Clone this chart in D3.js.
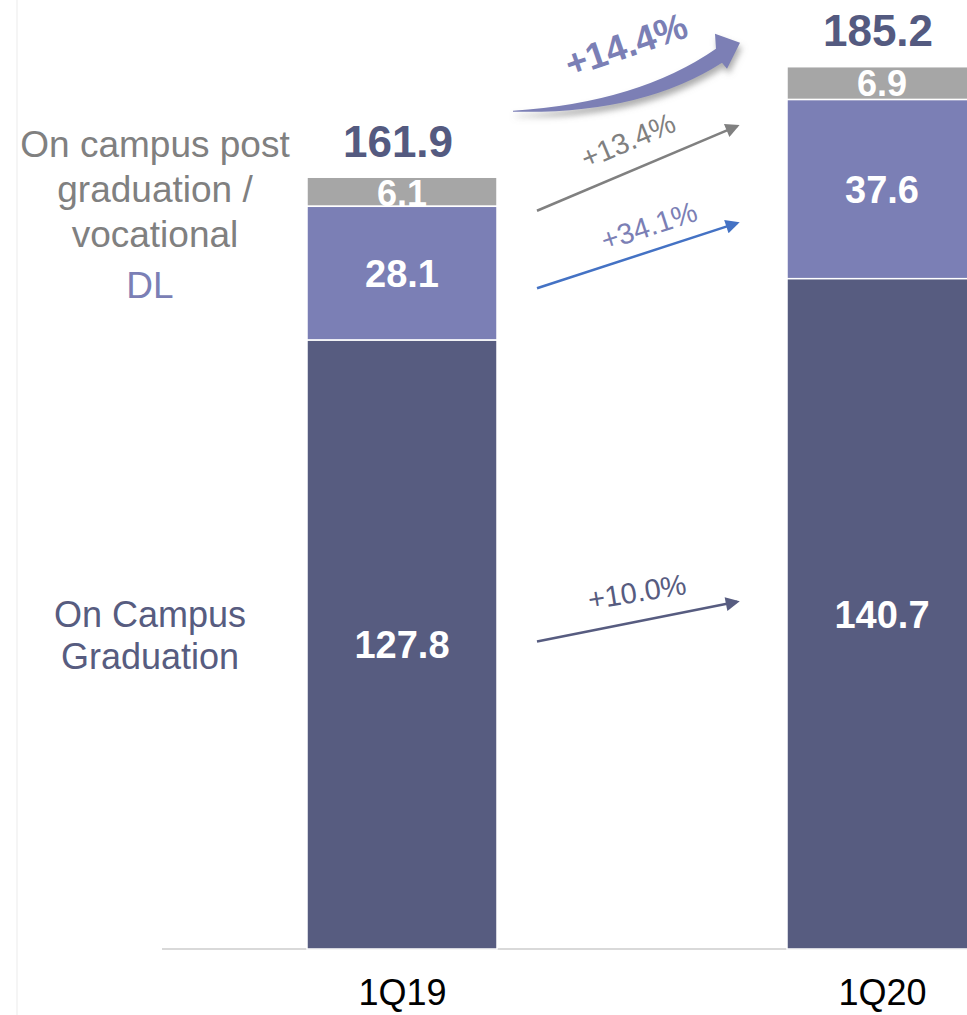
<!DOCTYPE html>
<html>
<head>
<meta charset="utf-8">
<script src="https://cdn.jsdelivr.net/npm/d3@7/dist/d3.min.js"></script>
<style>
  html, body { margin: 0; padding: 0; background: #fff; }
  svg { display: block; font-family: "Liberation Sans", Arial, sans-serif; }
</style>
</head>
<body>
<svg id="chart" width="967" height="1015"></svg>
<script>
// data
const categories = ['1Q19', '1Q20'];
const onCampusGrad = [127.8, 140.7];
const dlValues = [28.1, 37.6];
const postGradVoc = [6.1, 6.9];
const totals = [161.9, 185.2];
const seriesKeys = ['grad', 'dl', 'post'];
const seriesGrowth = ['+10.0%', '+34.1%', '+13.4%'];
const totalGrowth = '+14.4%';

const colors = { grad: '#575c80', dl: '#7b7fb5', post: '#a6a6a6' };
const arrowColors = { grad: '#575c80', dl: '#4472c4', post: '#808080' };
const growthTextColors = { grad: '#575c80', dl: '#7b7fb5', post: '#808080' };

const W = 967, H = 1015;
const baseY = 949;
const barW = 190;

const svg = d3.select('#chart');

const rows = categories.map((c, i) => ({
  cat: c, grad: onCampusGrad[i], dl: dlValues[i], post: postGradVoc[i]
}));
const stacked = d3.stack().keys(seriesKeys)(rows);

const x = d3.scalePoint().domain(categories).range([402, 882]);
const y = d3.scaleLinear().domain([0, 199.2]).range([baseY, 0]);

// faint frame line on the left
svg.append('line')
  .attr('x1', 17).attr('x2', 17).attr('y1', 0).attr('y2', H)
  .attr('stroke', '#f2f2f2').attr('stroke-width', 1.5);

// baseline
svg.append('line')
  .attr('x1', 162).attr('x2', W).attr('y1', baseY).attr('y2', baseY)
  .attr('stroke', '#d9d9d9').attr('stroke-width', 2);

// bars: draw top series first so lower rects cover overflowing labels
const bars = svg.append('g');
stacked.slice().reverse().forEach(s => {
  const g = bars.append('g').attr('class', 'series-' + s.key);
  g.selectAll('rect')
    .data(s)
    .join('rect')
    .attr('x', d => x(d.data.cat) - barW / 2)
    .attr('width', barW)
    .attr('y', d => y(d[1]))
    .attr('height', d => y(d[0]) - y(d[1]))
    .attr('fill', colors[s.key])
    .attr('stroke', '#fff')
    .attr('stroke-width', 1.5);

  const isPost = s.key === 'post';
  const fs = isPost ? 36 : 38;
  g.selectAll('text')
    .data(s)
    .join('text')
    .attr('x', d => x(d.data.cat))
    .attr('y', d => isPost ? y(d[1]) + 29 : (y(d[0]) + y(d[1])) / 2 + fs * 0.36)
    .attr('text-anchor', 'middle')
    .attr('font-size', fs)
    .attr('font-weight', 'bold')
    .attr('fill', '#fff')
    .text(d => d.data[s.key].toFixed(1));
});

// totals
svg.append('g').selectAll('text')
  .data(categories)
  .join('text')
  .attr('x', (c, i) => x(c) - 4)
  .attr('y', (c, i) => y(totals[i]) - 21)
  .attr('text-anchor', 'middle')
  .attr('font-size', 44)
  .attr('font-weight', 'bold')
  .attr('fill', '#545a80')
  .text((c, i) => totals[i].toFixed(1));

// category axis
const xAxis = svg.append('g')
  .attr('transform', `translate(0,${baseY})`)
  .call(d3.axisBottom(x).tickSize(0).tickPadding(0))
  .call(a => a.select('.domain').remove());
xAxis.selectAll('text')
  .attr('font-size', 36)
  .attr('font-family', '"Liberation Sans", Arial, sans-serif')
  .attr('fill', '#000')
  .attr('dy', null)
  .attr('y', 56);

// series legends on the left
const legend = svg.append('g').attr('text-anchor', 'middle');
[['On campus post', 157], ['graduation /', 202], ['vocational', 247]].forEach(([t, yy]) => {
  legend.append('text').attr('x', 155).attr('y', yy)
    .attr('font-size', 37).attr('fill', '#808080').text(t);
});
legend.append('text').attr('x', 150).attr('y', 298)
  .attr('font-size', 37).attr('fill', '#7b7fb5').text('DL');
[['On Campus', 627], ['Graduation', 669]].forEach(([t, yy]) => {
  legend.append('text').attr('x', 150).attr('y', yy)
    .attr('font-size', 36).attr('fill', '#575c80').text(t);
});

// growth arrows between the bars
const defs = svg.append('defs');
seriesKeys.forEach(k => {
  defs.append('marker')
    .attr('id', 'head-' + k)
    .attr('markerUnits', 'userSpaceOnUse')
    .attr('viewBox', '0 0 10 10')
    .attr('refX', 8).attr('refY', 5)
    .attr('markerWidth', 16).attr('markerHeight', 14)
    .attr('orient', 'auto')
    .append('path')
    .attr('d', 'M0,0 L10,5 L0,10 Z')
    .attr('fill', arrowColors[k]);
});

const x0 = x(categories[0]) + barW / 2;
const x1 = x(categories[1]) - barW / 2;
const segMid = (si, ci) => (y(stacked[si][ci][0]) + y(stacked[si][ci][1])) / 2;
// tail / head vertical offsets from the segment middles, and label shift
const arrowAdj = [
  { t: -3, h: -12, lx: 0, ly: -30 },
  { t: 15, h: 34, lx: 12, ly: -30 },
  { t: 19, h: 43, lx: -9, ly: -28 }
];
seriesKeys.forEach((k, si) => {
  const a = arrowAdj[si];
  const tx = x0 + 40, ty = segMid(si, 0) + a.t;
  const hx = x1 - 50, hy = segMid(si, 1) + a.h;
  svg.append('line')
    .attr('x1', tx).attr('y1', ty).attr('x2', hx).attr('y2', hy)
    .attr('stroke', arrowColors[k]).attr('stroke-width', 2.5)
    .attr('marker-end', `url(#head-${k})`);
  const ang = Math.atan2(hy - ty, hx - tx) * 180 / Math.PI;
  const mx = (tx + hx) / 2 + a.lx, my = (ty + hy) / 2 + a.ly;
  svg.append('text')
    .attr('transform', `translate(${mx},${my}) rotate(${k === 'grad' ? ang + 2 : ang})`)
    .attr('text-anchor', 'middle')
    .attr('dy', '0.35em')
    .attr('font-size', 29)
    .attr('fill', growthTextColors[k])
    .text(seriesGrowth[si]);
});

// big curved arrow for total growth
const shadow = defs.append('filter').attr('id', 'shadow')
  .attr('x', '-20%').attr('y', '-50%').attr('width', '140%').attr('height', '200%');
shadow.append('feDropShadow')
  .attr('dx', 2).attr('dy', 5).attr('stdDeviation', 3)
  .attr('flood-color', '#777').attr('flood-opacity', 0.6);

const bt = [x0 + 16, y(totals[0]) - 67];   // tail
const tip = [x1 - 47, y(totals[1]) - 24];  // tip
const p = d3.path();
p.moveTo(bt[0], bt[1]);
p.quadraticCurveTo(bt[0] + 125, bt[1] - 8, tip[0] - 24, tip[1] + 6);
p.lineTo(tip[0] - 25, tip[1] - 9);
p.lineTo(tip[0], tip[1]);
p.lineTo(tip[0] - 13, tip[1] + 26);
p.lineTo(tip[0] - 18, tip[1] + 20);
p.quadraticCurveTo(bt[0] + 128, bt[1] + 4, bt[0], bt[1] + 1);
p.closePath();
svg.append('path')
  .attr('d', p.toString())
  .attr('fill', '#7b7fb5')
  .attr('filter', 'url(#shadow)');

svg.append('text')
  .attr('transform', `translate(${bt[0] + 113},${bt[1] - 66}) rotate(-19)`)
  .attr('text-anchor', 'middle')
  .attr('dy', '0.35em')
  .attr('font-size', 37)
  .attr('font-weight', 'bold')
  .attr('fill', '#7b7fb5')
  .text(totalGrowth);
</script>
</body>
</html>
